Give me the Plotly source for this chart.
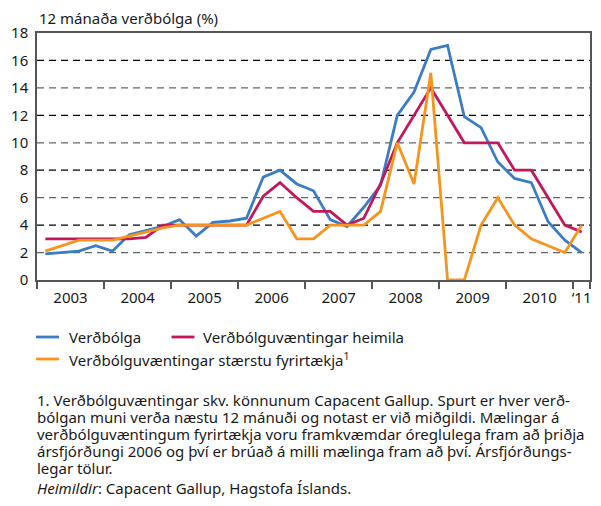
import plotly.graph_objects as go

# ---------------- data ----------------
years = [2003, 2004, 2005, 2006, 2007, 2008, 2009, 2010, 2011]
quarters = [f"{y}Q{q}" for y in years[:-1] for q in (1, 2, 3, 4)] + ["2011Q1"]

verdbolga = [1.9, 2.0, 2.1, 2.5, 2.1, 3.3, 3.6, 3.9, 4.4, 3.2, 4.2, 4.3, 4.5, 7.5, 8.0, 7.0,
             6.5, 4.4, 3.9, 5.3, 6.9, 12.0, 13.7, 16.8, 17.1, 11.9, 11.1, 8.6, 7.4, 7.1, 4.25,
             2.9, 2.0]
heimila = [3.0, 3.0, 3.0, 3.0, 3.0, 3.0, 3.1, 4.0, 4.0, 4.0, 4.0, 4.0, 4.0, 6.1, 7.1, 6.0,
           5.0, 5.0, 4.0, 4.5, 7.0, 10.0, 12.0, 14.0, 12.0, 10.0, 10.0, 10.0, 8.0, 8.0, 6.0,
           4.0, 3.5]
fyrirtaekja = [2.1, 2.5, 2.9, 2.9, 2.9, 3.2, 3.5, 3.8, 4.0, 4.0, 4.0, 4.0, 4.0, 4.5, 5.0, 3.0,
               3.0, 4.0, 4.0, 4.0, 5.0, 10.0, 7.0, 15.1, 0.0, 0.0, 4.0, 6.0, 4.0, 3.0, 2.5,
               2.0, 4.0]

series_names = ["Verðbólga", "Verðbólguvæntingar heimila",
                "Verðbólguvæntingar stærstu fyrirtækja<sup>1</sup>"]
series_colors = ["#3b7dc4", "#c2185b", "#f7941d"]
year_labels = ["2003", "2004", "2005", "2006", "2007", "2008", "2009", "2010", "‘11"]
y_ticks = [0, 2, 4, 6, 8, 10, 12, 14, 16, 18]

title_text = "12 mánaða verðbólga (%)"
footnote = [
    "1. Verðbólguvæntingar skv. könnunum Capacent Gallup. Spurt er hver verð-",
    "bólgan muni verða næstu 12 mánuði og notast er við miðgildi. Mælingar á",
    "verðbólguvæntingum fyrirtækja voru framkvæmdar óreglulega fram að þriðja",
    "ársfjórðungi 2006 og því er brúað á milli mælinga fram að því. Ársfjórðungs-",
    "legar tölur.",
    "<i>Heimildir</i>: Capacent Gallup, Hagstofa Íslands.",
]

# ---------------- geometry helpers ----------------
W, H = 601, 506
ML, MR, MT, MB = 37, 9, 33, 226
PW, PH = W - ML - MR, H - MT - MB


def px_x(px):
    return (px - ML) / PW


def px_y(py):
    return (H - MB - py) / PH


FONT = "Noto Sans"
TXT = "#1a1a1a"

xidx = list(range(len(quarters)))

fig = go.Figure()
for name, vals, col in zip(series_names, [verdbolga, heimila, fyrirtaekja], series_colors):
    fig.add_trace(go.Scatter(x=xidx, y=vals, mode="lines", name=name,
                             line=dict(color=col, width=2.8), showlegend=False))

# year label positions (centre of each year) and boundaries
label_pos = []
bounds = []
for k, y in enumerate(years):
    qs = [i for i, q in enumerate(quarters) if q.startswith(str(y))]
    label_pos.append(sum(qs) / len(qs))
    bounds.append(qs[0] - 0.5)
bounds.append(len(quarters) - 0.5)

shapes = []
for j, g in enumerate(y_ticks[1:-1]):
    shapes.append(dict(type="line", xref="paper", yref="y", x0=0, x1=1, y0=g, y1=g,
                       line=dict(color="#000000" if j % 2 else "#666666", width=1.3,
                                 dash="7px,5px"), layer="below"))

annotations = [dict(text=title_text, xref="paper", yref="paper", x=px_x(37), y=px_y(18),
                    xanchor="left", yanchor="middle", showarrow=False,
                    font=dict(family=FONT, size=15, color=TXT))]

# manual legend
leg_rows = [(36, 337, 67), (172, 337, 202), (36, 359, 67)]
for (lx, ly, tx), name, col in zip(leg_rows, series_names, series_colors):
    shapes.append(dict(type="line", xref="paper", yref="paper", x0=px_x(lx), x1=px_x(lx + 23),
                       y0=px_y(ly), y1=px_y(ly), line=dict(color=col, width=2.8)))
    annotations.append(dict(text=name, xref="paper", yref="paper", x=px_x(tx), y=px_y(ly),
                            xanchor="left", yanchor="middle", showarrow=False,
                            font=dict(family=FONT, size=15, color=TXT)))

for k, line in enumerate(footnote):
    yc = 400 + 16.9 * k + (3 if k == 5 else 0)
    annotations.append(dict(text=line, xref="paper", yref="paper", x=px_x(35), y=px_y(yc),
                            xanchor="left", yanchor="middle", showarrow=False,
                            font=dict(family=FONT, size=15, color=TXT)))

fig.update_layout(
    width=W, height=H, margin=dict(l=ML, r=MR, t=MT, b=MB, pad=0),
    paper_bgcolor="white", plot_bgcolor="white",
    font=dict(family=FONT, size=15, color=TXT),
    shapes=shapes, annotations=annotations,
    xaxis=dict(range=[-0.5, len(quarters) - 0.5], tickmode="array", tickvals=label_pos,
               ticktext=year_labels, ticks="outside", ticklen=3, tickcolor="rgba(0,0,0,0)",
               showgrid=False, zeroline=False, showline=True, linecolor="#555555",
               linewidth=1.5, mirror=True,
               tickfont=dict(family=FONT, size=15, color=TXT),
               minor=dict(tickmode="array", tickvals=bounds, ticks="outside", ticklen=7,
                          tickcolor="#555555", tickwidth=1.5, showgrid=False)),
    yaxis=dict(range=[0, 18], tickmode="array", tickvals=y_ticks, ticks="outside", ticklen=4,
               tickcolor="rgba(0,0,0,0)", showgrid=False, zeroline=False, showline=True,
               linecolor="#555555", linewidth=1.5, mirror=True,
               tickfont=dict(family=FONT, size=15, color=TXT)),
)

fig.write_html("out.html", config={"displayModeBar": False},
               post_script="document.body.style.margin='0';document.body.style.padding='0';")
